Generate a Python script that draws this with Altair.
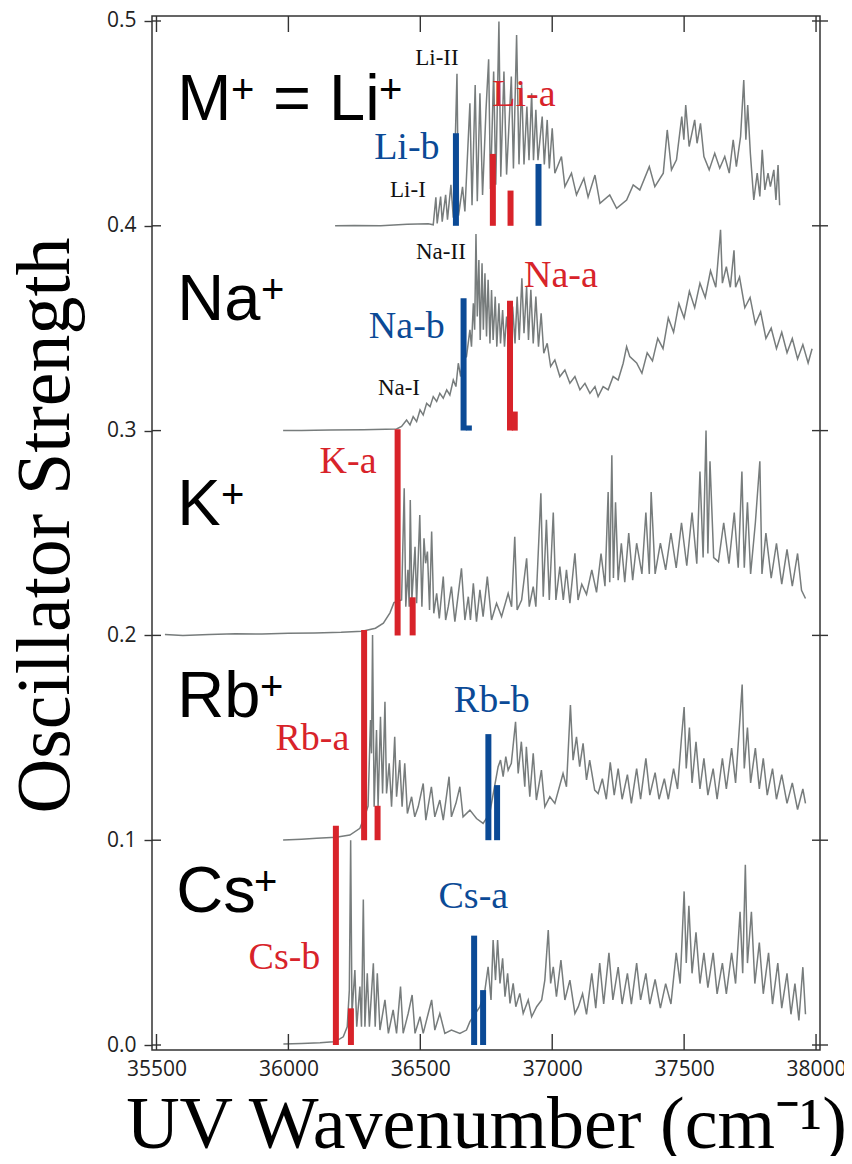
import altair as alt
import pandas as pd

# ---------------- data ----------------
tick_x = [35500, 36000, 36500, 37000, 37500, 38000]
tick_y = [0.0, 0.1, 0.2, 0.3, 0.4, 0.5]

li_wn = [36177, 36250, 36350, 36450, 36530, 36549, 36559, 36564, 36577, 36583, 36596, 36603,
         36616, 36625, 36639, 36645, 36660, 36669, 36688, 36696, 36708, 36716, 36726, 36736,
         36749, 36759, 36766, 36778, 36786, 36798, 36805, 36817, 36827, 36845, 36853, 36865,
         36874, 36884, 36893, 36904, 36912, 36922, 36929, 36938, 36946, 36962, 36970, 36981,
         36989, 37000, 37010, 37035, 37048, 37073, 37092, 37120, 37136, 37162, 37181, 37218,
         37244, 37282, 37307, 37332, 37368, 37389, 37421, 37436, 37452, 37471, 37491, 37499,
         37506, 37519, 37540, 37549, 37562, 37575, 37595, 37616, 37635, 37654, 37671, 37686,
         37698, 37714, 37726, 37734, 37741, 37751, 37764, 37777, 37787, 37796, 37806, 37818,
         37827, 37840, 37848, 37856, 37862]
li_f = [0.400, 0.4002, 0.4000, 0.4008, 0.4010, 0.4005, 0.4139, 0.4012, 0.4143, 0.4020, 0.4151, 0.4030,
        0.4200, 0.4040, 0.4742, 0.4050, 0.4190, 0.4070, 0.4598, 0.4100, 0.4688, 0.4120, 0.4647, 0.4150,
        0.4566, 0.4813, 0.4180, 0.4753, 0.4200, 0.4997, 0.4240, 0.4753, 0.4250, 0.4729, 0.4280, 0.4932,
        0.4300, 0.4696, 0.4300, 0.4582, 0.4320, 0.4647, 0.4320, 0.4566, 0.4320, 0.4533, 0.4300, 0.4517,
        0.4280, 0.4476, 0.4257, 0.4338, 0.4191, 0.4257, 0.4151, 0.4232, 0.4140, 0.4248, 0.4110, 0.4151,
        0.4085, 0.4126, 0.4200, 0.4175, 0.4289, 0.4191, 0.4257, 0.4468, 0.4273, 0.4322, 0.4533, 0.4420,
        0.4590, 0.4387, 0.4517, 0.4403, 0.4500, 0.4338, 0.4273, 0.4354, 0.4281, 0.4338, 0.4257, 0.4420,
        0.4289, 0.4436, 0.4712, 0.4420, 0.4590, 0.4354, 0.4126, 0.4257, 0.4143, 0.4371, 0.4175, 0.4257,
        0.4191, 0.4273, 0.4126, 0.4297, 0.4100]

na_wn = [35980, 36050, 36100, 36158, 36284, 36410, 36429, 36448, 36461, 36473, 36486, 36499,
         36511, 36524, 36537, 36549, 36562, 36574, 36587, 36600, 36612, 36625, 36635, 36644,
         36653, 36660, 36675, 36688, 36694, 36701, 36706, 36711, 36716, 36722, 36727, 36734,
         36739, 36745, 36751, 36757, 36764, 36770, 36776, 36784, 36790, 36798, 36804, 36812,
         36819, 36827, 36835, 36850, 36859, 36867, 36875, 36885, 36893, 36903, 36910, 36919,
         36928, 36938, 36948, 36958, 36968, 36981, 36994, 37010, 37029, 37048, 37067, 37086,
         37105, 37124, 37143, 37162, 37174, 37193, 37212, 37231, 37250, 37269, 37282, 37294,
         37320, 37340, 37360, 37380, 37400, 37420, 37440, 37460, 37480, 37500, 37520, 37540,
         37560, 37580, 37600, 37620, 37638, 37645, 37660, 37675, 37689, 37695, 37710, 37730,
         37750, 37770, 37790, 37810, 37830, 37850, 37870, 37890, 37910, 37930, 37950, 37970,
         37985]
na_f = [0.3000, 0.3001, 0.3002, 0.3003, 0.3004, 0.3008, 0.3020, 0.3052, 0.3028, 0.3068, 0.3044, 0.3101,
        0.3076, 0.3133, 0.3117, 0.3166, 0.3142, 0.3182, 0.3158, 0.3199, 0.3174, 0.3247, 0.3215, 0.3329,
        0.3264, 0.3345, 0.3361, 0.3492, 0.3410, 0.3622, 0.3492, 0.3960, 0.3557, 0.3833, 0.3443, 0.3817,
        0.3492, 0.3768, 0.3459, 0.3736, 0.3426, 0.3687, 0.3443, 0.3654, 0.3410, 0.3622, 0.3426, 0.3589,
        0.3410, 0.3557, 0.3443, 0.3606, 0.3426, 0.3654, 0.3443, 0.3744, 0.3475, 0.3703, 0.3443, 0.3687,
        0.3426, 0.3654, 0.3410, 0.3573, 0.3378, 0.3426, 0.3313, 0.3345, 0.3264, 0.3296, 0.3231, 0.3264,
        0.3199, 0.3231, 0.3182, 0.3215, 0.3166, 0.3215, 0.3199, 0.3264, 0.3247, 0.3329, 0.3410, 0.3361,
        0.3330, 0.3280, 0.3380, 0.3340, 0.3450, 0.3400, 0.3550, 0.3480, 0.3620, 0.3550, 0.3680, 0.3600,
        0.3720, 0.3650, 0.3780, 0.3700, 0.3980, 0.3720, 0.3800, 0.3700, 0.3880, 0.3700, 0.3750, 0.3600,
        0.3650, 0.3520, 0.3580, 0.3450, 0.3500, 0.3400, 0.3480, 0.3380, 0.3450, 0.3350, 0.3420, 0.3330,
        0.3400]

k_wn = [35532, 35600, 35700, 35800, 35900, 36000, 36100, 36200, 36280, 36330, 36360, 36385,
        36400, 36429, 36439, 36445, 36453, 36458, 36462, 36468, 36480, 36486, 36498, 36506,
        36514, 36520, 36527, 36535, 36543, 36551, 36562, 36572, 36587, 36596, 36606, 36618,
        36631, 36656, 36669, 36682, 36690, 36701, 36713, 36726, 36738, 36754, 36770, 36789,
        36808, 36833, 36846, 36858, 36867, 36884, 36903, 36913, 36928, 36938, 36957, 36966,
        36978, 36989, 37004, 37014, 37029, 37042, 37054, 37067, 37086, 37098,
        37112, 37130, 37150, 37168, 37185, 37200, 37212, 37218, 37226, 37232, 37240, 37250,
        37262, 37275, 37290, 37305, 37320, 37340, 37355, 37368, 37375, 37390, 37410, 37430,
        37450, 37470, 37490, 37510, 37530, 37548, 37560, 37572, 37583, 37590, 37598, 37612,
        37630, 37650, 37670, 37690, 37705, 37719, 37728, 37740, 37752, 37770, 37787, 37795,
        37810, 37830, 37850, 37870, 37890, 37910, 37930, 37945, 37960]
k_f = [0.2005, 0.2000, 0.2005, 0.2008, 0.2007, 0.2010, 0.2012, 0.2015, 0.2020, 0.2035, 0.2060, 0.2110,
       0.2160, 0.2173, 0.2718, 0.2140, 0.2320, 0.2140, 0.2661, 0.2173, 0.2433, 0.2157, 0.2588, 0.2140,
       0.2474, 0.2352, 0.2409, 0.2124, 0.2507, 0.2108, 0.2205, 0.2083, 0.2287, 0.2075, 0.2140, 0.2238,
       0.2067, 0.2328, 0.2075, 0.2189, 0.2075, 0.2254, 0.2067, 0.2222, 0.2092, 0.2287, 0.2075, 0.2157,
       0.2092, 0.2205, 0.2140, 0.2482, 0.2124, 0.2173, 0.2376, 0.2140, 0.2238, 0.2140, 0.2694, 0.2189,
       0.2564, 0.2173, 0.2600, 0.2173, 0.2336, 0.2173, 0.2320, 0.2157, 0.2401, 0.2173,
       0.2250, 0.2200, 0.2320, 0.2210, 0.2400, 0.2240, 0.2700, 0.2260, 0.2880, 0.2280, 0.2650, 0.2270,
       0.2450, 0.2260, 0.2500, 0.2270, 0.2450, 0.2300, 0.2600, 0.2300, 0.2700, 0.2300, 0.2450, 0.2320,
       0.2500, 0.2330, 0.2550, 0.2340, 0.2600, 0.2350, 0.2800, 0.2380, 0.3000, 0.2400, 0.2850, 0.2380,
       0.2360, 0.2550, 0.2350, 0.2600, 0.2330, 0.2800, 0.2330, 0.2650, 0.2300, 0.2550, 0.2850, 0.2300,
       0.2500, 0.2280, 0.2450, 0.2250, 0.2420, 0.2240, 0.2400, 0.2220, 0.2180]

rb_wn = [35980, 36050, 36107, 36180, 36233, 36271, 36290, 36302, 36311, 36315, 36319, 36325,
         36334, 36340, 36349, 36357, 36366, 36372, 36382, 36391, 36403, 36410, 36422, 36431,
         36441, 36451, 36467, 36479, 36492, 36511, 36521, 36542, 36555, 36574, 36587, 36609,
         36618, 36635, 36650, 36662, 36688, 36713, 36738, 36763, 36795, 36804, 36814, 36824,
         36833, 36845, 36861, 36871, 36883, 36896, 36902, 36915, 36928, 36940, 36959, 36972,
         36991, 37010, 37041, 37054, 37069, 37079, 37092, 37104, 37117, 37130, 37142, 37161,
         37174, 37190, 37205, 37220, 37235, 37250, 37265, 37285, 37300, 37320, 37335, 37355,
         37370, 37390, 37405, 37425, 37440, 37460, 37475, 37490, 37500, 37508, 37520, 37530,
         37545, 37560, 37575, 37590, 37610, 37625, 37645, 37660, 37680, 37695, 37712, 37720,
         37728, 37740, 37752, 37770, 37785, 37800, 37815, 37835, 37850, 37870, 37890, 37910,
         37930, 37950, 37960]
rb_f = [0.1001, 0.1005, 0.1009, 0.1015, 0.1025, 0.1058, 0.1120, 0.1167, 0.1587, 0.1424, 0.2002, 0.1163,
        0.1538, 0.1163, 0.1603, 0.1228, 0.1676, 0.1228, 0.1375, 0.1163, 0.1505, 0.1212, 0.1391, 0.1163,
        0.1375, 0.1130, 0.1212, 0.1114, 0.1163, 0.1277, 0.1098, 0.1261, 0.1114, 0.1196, 0.1098, 0.1310,
        0.1114, 0.1180, 0.1261, 0.1114, 0.1147, 0.1106, 0.1082, 0.1131, 0.1359, 0.1391, 0.1310, 0.1408,
        0.1342, 0.1375, 0.1578, 0.1326, 0.1481, 0.1261, 0.1456, 0.1212, 0.1424, 0.1196, 0.1342, 0.1163,
        0.1212, 0.1180, 0.1326, 0.1261, 0.1660, 0.1391, 0.1505, 0.1359, 0.1473, 0.1294, 0.1391, 0.1245,
        0.1228, 0.1300, 0.1200, 0.1380, 0.1220, 0.1350, 0.1200, 0.1320, 0.1180, 0.1350, 0.1200, 0.1400,
        0.1220, 0.1330, 0.1200, 0.1300, 0.1200, 0.1350, 0.1250, 0.1500, 0.1650, 0.1350, 0.1550, 0.1280,
        0.1480, 0.1250, 0.1400, 0.1220, 0.1350, 0.1200, 0.1400, 0.1250, 0.1450, 0.1280, 0.1600, 0.1760,
        0.1350, 0.1550, 0.1280, 0.1450, 0.1250, 0.1400, 0.1220, 0.1350, 0.1200, 0.1320, 0.1180, 0.1280,
        0.1150, 0.1250, 0.1180]

cs_wn = [35981, 36050, 36120, 36170, 36195, 36208, 36223, 36231, 36236, 36241, 36252, 36259,
         36271, 36277, 36284, 36290, 36299, 36307, 36322, 36329, 36337, 36347, 36366, 36379,
         36397, 36410, 36425, 36435, 36454, 36469, 36480, 36499, 36511, 36530, 36543, 36555,
         36574, 36593, 36618, 36650, 36675, 36688, 36726, 36745, 36757, 36768, 36776, 36785,
         36793, 36802, 36812, 36821, 36831, 36840, 36852, 36862, 36877, 36890, 36909, 36922,
         36941, 36960, 36972, 36985, 36994, 37004, 37016, 37033, 37048, 37067, 37086, 37099,
         37115, 37130, 37150, 37165, 37180, 37195, 37215, 37230, 37250, 37265, 37285, 37300,
         37320, 37335, 37355, 37370, 37390, 37410, 37430, 37450, 37470, 37485, 37500, 37508,
         37518, 37530, 37545, 37560, 37575, 37590, 37610, 37625, 37645, 37660, 37680, 37695,
         37712, 37722, 37732, 37740, 37755, 37768, 37785, 37800, 37820, 37835, 37855, 37870,
         37890, 37905, 37920, 37935, 37950, 37960]
cs_f = [0.0005, 0.0007, 0.0011, 0.0016, 0.0030, 0.0040, 0.0089, 0.0268, 0.1000, 0.0154, 0.0366, 0.0089,
        0.0285, 0.0089, 0.0711, 0.0089, 0.0350, 0.0089, 0.0399, 0.0089, 0.0350, 0.0073, 0.0220, 0.0057,
        0.0171, 0.0057, 0.0285, 0.0057, 0.0154, 0.0244, 0.0057, 0.0138, 0.0057, 0.0154, 0.0220, 0.0073,
        0.0154, 0.0057, 0.0073, 0.0057, 0.0073, 0.0114, 0.0187, 0.0268, 0.0382, 0.0220, 0.0513, 0.0317,
        0.0513, 0.0301, 0.0423, 0.0236, 0.0350, 0.0203, 0.0301, 0.0187, 0.0252, 0.0154, 0.0220, 0.0138,
        0.0187, 0.0220, 0.0317, 0.0561, 0.0301, 0.0382, 0.0236, 0.0415, 0.0220, 0.0317, 0.0154, 0.0187,
        0.0250, 0.0150, 0.0350, 0.0180, 0.0400, 0.0200, 0.0450, 0.0220, 0.0380, 0.0200, 0.0350, 0.0200,
        0.0400, 0.0220, 0.0350, 0.0200, 0.0320, 0.0180, 0.0300, 0.0200, 0.0450, 0.0300, 0.0750, 0.0400,
        0.0680, 0.0350, 0.0550, 0.0300, 0.0450, 0.0280, 0.0450, 0.0250, 0.0400, 0.0250, 0.0450, 0.0300,
        0.0650, 0.0350, 0.0880, 0.0400, 0.0650, 0.0300, 0.0500, 0.0250, 0.0450, 0.0200, 0.0400, 0.0180,
        0.0350, 0.0150, 0.0300, 0.0120, 0.0380, 0.0150]

# calculated transition bars (stick spectra)
bar_conf = ["Li-b", "Li-a", "Li-a", "Li-b",
            "Na-b", "Na-b", "Na-a", "Na-a",
            "K-a", "K-a",
            "Rb-a", "Rb-a", "Rb-b", "Rb-b",
            "Cs-b", "Cs-b", "Cs-a", "Cs-a"]
bar_wn = [36635, 36775, 36842, 36948,
          36664, 36684, 36840, 36858,
          36414, 36471,
          36287, 36338, 36758, 36791,
          36180, 36237, 36704, 36738]
bar_base = [0.4, 0.4, 0.4, 0.4,
            0.3, 0.3, 0.3, 0.3,
            0.2, 0.2,
            0.1, 0.1, 0.1, 0.1,
            0.0, 0.0, 0.0, 0.0]
bar_top = [0.4452, 0.4351, 0.4172, 0.4302,
           0.3646, 0.3025, 0.3634, 0.3093,
           0.3006, 0.2186,
           0.2026, 0.1168, 0.1518, 0.1269,
           0.1070, 0.0179, 0.0534, 0.0268]

# conformer labels
conf_text = ["Li-a", "Li-b", "Na-a", "Na-b", "K-a", "Rb-a", "Rb-b", "Cs-b", "Cs-a"]
conf_wn = [36893, 36449, 37033, 36449, 36226, 36091, 36771, 35985, 36701]
conf_f = [0.4585, 0.4326, 0.3701, 0.3452, 0.2793, 0.1440, 0.1626, 0.0371, 0.0669]

# band-origin labels
band_text = ["Li-II", "Li-I", "Na-II", "Na-I"]
band_wn = [36563, 36453, 36578, 36419]
band_f = [0.4785, 0.4141, 0.3838, 0.3174]

# ion labels
ion_text = ["M", "= Li", "Na", "K", "Rb", "Cs"]
ion_wn = [35579, 35942, 35579, 35579, 35579, 35575]
ion_f = [0.4517, 0.4517, 0.3540, 0.2539, 0.1602, 0.0649]
plus_wn = [35782, 36343, 35896, 35745, 35892, 35870]
plus_f = [0.4600, 0.4600, 0.3623, 0.2622, 0.1685, 0.0732]

red_set = ["Li-a", "Na-a", "K-a", "Rb-a", "Cs-b"]
blue_set = ["Li-b", "Na-b", "Rb-b", "Cs-a"]

# ---------------- tables ----------------
rows = []
for name, wn, f in [("Li", li_wn, li_f), ("Na", na_wn, na_f), ("K", k_wn, k_f),
                    ("Rb", rb_wn, rb_f), ("Cs", cs_wn, cs_f)]:
    for i, (a, b) in enumerate(zip(wn, f)):
        rows.append({"series": name, "idx": i, "wn": a, "f": b})
spec = pd.DataFrame(rows)
bars = pd.DataFrame({"conf": bar_conf, "wn": bar_wn, "f": bar_base, "f2": bar_top})
conf = pd.DataFrame({"conf": conf_text, "wn": conf_wn, "f": conf_f})
band = pd.DataFrame({"txt": band_text, "wn": band_wn, "f": band_f})
ions = pd.DataFrame({"txt": ion_text, "wn": ion_wn, "f": ion_f})
plus = pd.DataFrame({"txt": ["+"] * len(plus_wn), "wn": plus_wn, "f": plus_f})
tx = pd.DataFrame({"wn": tick_x})
ty = pd.DataFrame({"f": tick_y})

W, H = 668, 1034
XS = alt.Scale(domain=[35483, 38015], nice=False, zero=False)
YS = alt.Scale(domain=[-0.00244, 0.50244], nice=False, zero=False)
TICK_FONT = "Open Sans"

X_AX = alt.Axis(values=tick_x, format="d", ticks=False, domain=False, grid=False,
                labelFont=TICK_FONT, labelFontSize=21, labelColor="#222", labelPadding=8,
                labelFlush=False,
                title="UV Wavenumber (cm⁻¹)", titleFont="Liberation Serif", titleFontSize=74,
                titleFontWeight="normal", titleColor="#000", titleY=97,
                titleBaseline="alphabetic")
Y_AX = alt.Axis(values=tick_y, format=".1f", tickSize=8, tickColor="#333", tickWidth=1.4,
                domain=False, grid=False, labelFont=TICK_FONT, labelFontSize=21,
                labelColor="#222", labelPadding=8, labelFlush=False,
                title="Oscillator Strength", titleFont="Liberation Serif", titleFontSize=76,
                titleFontWeight="normal", titleColor="#000", titleX=-84, titleY=509,
                titleAngle=270, titleBaseline="alphabetic", titleAlign="center")


def xe(field="wn"):
    return alt.X(f"{field}:Q", scale=XS, axis=X_AX)


def ye(field="f"):
    return alt.Y(f"{field}:Q", scale=YS, axis=Y_AX)


color_scale = alt.Scale(domain=red_set + blue_set,
                        range=["#d8232a"] * len(red_set) + ["#0b4a96"] * len(blue_set))

lines = alt.Chart(spec).mark_line(color="#777c7c", strokeWidth=1.5).encode(
    x=xe(), y=ye(), detail="series:N", order="idx:Q")

sticks = alt.Chart(bars).mark_rule(strokeWidth=6, strokeCap="butt").encode(
    x=xe(), y=ye(), y2="f2:Q",
    color=alt.Color("conf:N", scale=color_scale, legend=None))

bottom_ticks = alt.Chart(tx).mark_rule(color="#333", strokeWidth=1.4).encode(
    x=xe(), y=alt.value(H), y2=alt.value(H - 16))
top_ticks = alt.Chart(tx).mark_rule(color="#333", strokeWidth=1.4).encode(
    x=xe(), y=alt.value(0), y2=alt.value(16))
left_ticks = alt.Chart(ty).mark_rule(color="#333", strokeWidth=1.4).encode(
    y=ye(), x=alt.value(0), x2=alt.value(9))
right_ticks = alt.Chart(ty).mark_rule(color="#333", strokeWidth=1.4).encode(
    y=ye(), x=alt.value(W - 8), x2=alt.value(W + 8))

conf_labels = alt.Chart(conf).mark_text(font="Liberation Serif", fontSize=38,
                                        align="center", baseline="alphabetic").encode(
    x=xe(), y=ye(), text="conf:N",
    color=alt.Color("conf:N", scale=color_scale, legend=None))

band_labels = alt.Chart(band).mark_text(font="Liberation Serif", fontSize=23, color="#111",
                                        align="center", baseline="alphabetic").encode(
    x=xe(), y=ye(), text="txt:N")

ion_labels = alt.Chart(ions).mark_text(font="Liberation Sans", fontSize=65, color="#000",
                                       align="left", baseline="alphabetic").encode(
    x=xe(), y=ye(), text="txt:N")

plus_labels = alt.Chart(plus).mark_text(font="Liberation Sans", fontSize=40, color="#000",
                                        align="left", baseline="alphabetic").encode(
    x=xe(), y=ye(), text="txt:N")

green = alt.Chart(pd.DataFrame({"a": [0]})).mark_rule(
    color="#a6ee47", strokeWidth=7, strokeCap="round").encode(
    x=alt.value(133), x2=alt.value(720), y=alt.value(-12.5))

chart = alt.layer(
    lines, sticks, bottom_ticks, top_ticks, left_ticks, right_ticks,
    conf_labels, band_labels, ion_labels, plus_labels, green
).properties(
    width=W, height=H,
    autosize=alt.AutoSizeParams(type="none"),
    padding={"left": 144, "top": 8, "right": 24, "bottom": 106},
).configure_view(stroke="#333", strokeWidth=1.5)

chart.save("out.html", embed_options={"renderer": "svg", "actions": False})
